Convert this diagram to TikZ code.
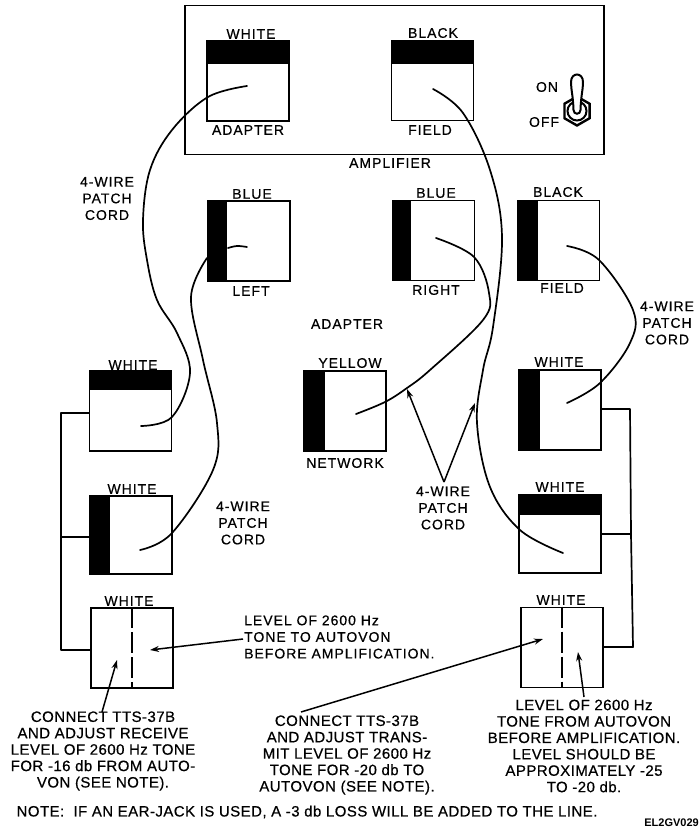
\documentclass[tikz,border=0pt]{standalone}
\usepackage{fontspec}
\setmainfont{Liberation Sans}
\newfontfamily\lblfont[LetterSpace=7,FakeBold=0.5]{Liberation Sans}
\newfontfamily\txtfont[LetterSpace=3,FakeBold=0.5]{Liberation Sans}
\usetikzlibrary{arrows.meta,shapes.geometric}
\tikzset{
  jack/.style={draw=black,fill=white,line width=1.8pt,minimum width=#1pt,minimum height=80pt,inner sep=0pt},
  jack/.default=82,
  lbl/.style={inner sep=0pt,align=center,font=\lblfont\fontsize{14}{16.6}\selectfont},
  txt/.style={inner sep=0pt,align=center,font=\txtfont\fontsize{15}{16.4}\selectfont},
  cord/.style={line width=1.7pt,line cap=round},
  wire/.style={line width=1.7pt,line join=round},
  ptr/.style={line width=1.5pt,-{Stealth[length=9pt,width=6pt]}},
  dash line/.style={line width=1.7pt,dash pattern=on 21pt off 4pt},
}
\begin{document}
\begin{tikzpicture}[x=1pt,y=-1pt]
\useasboundingbox (0,0) rectangle (700,834);
% amplifier panel
\node[draw=black,line width=1.8pt,minimum width=419pt,minimum height=149pt,inner sep=0pt] (amp) at (394.5,80) {};
% jacks
\node[jack] (wa) at (248,81) {};
\node[jack] (bf) at (432.5,80.5) {};
\node[jack] (bl) at (249,241) {};
\node[jack] (br) at (433.5,240.5) {};
\node[jack] (fd) at (558.5,240.5) {};
\node[jack] (ny) at (345,411) {};
\node[jack] (l1) at (130.5,411) {};
\node[jack,minimum height=78pt] (l2) at (131,535) {};
\node[jack] (l3) at (132,648) {};
\node[jack] (r1) at (560,410) {};
\node[jack,minimum height=78pt] (r2) at (560,534) {};
\node[jack] (r3) at (562,647.5) {};
% black bands
\fill (wa.north west) rectangle ([yshift=-24pt]wa.north east);
\fill (bf.north west) rectangle ([yshift=-24pt]bf.north east);
\fill (l1.north west) rectangle ([yshift=-20pt]l1.north east);
\fill (r2.north west) rectangle ([yshift=-21pt]r2.north east);
\fill (bl.north west) rectangle ([xshift=20pt]bl.south west);
\fill (br.north west) rectangle ([xshift=19pt]br.south west);
\fill (fd.north west) rectangle ([xshift=21pt]fd.south west);
\fill (ny.north west) rectangle ([xshift=22pt]ny.south west);
\fill (l2.north west) rectangle ([xshift=21pt]l2.south west);
\fill (r1.north west) rectangle ([xshift=22pt]r1.south west);
% dashed dividers
\draw[dash line] (l3.north) -- (l3.south);
\draw[dash line] (r3.north) -- (r3.south);
% toggle switch
\node[draw=black,line width=2.4pt,regular polygon,regular polygon sides=6,minimum size=29pt,inner sep=0pt,shape border rotate=30] (nut) at (577,111) {};
\draw[line width=2pt] (nut) circle (9.5pt);
\draw[line width=2pt,fill=white] (573.5,110) .. controls (573,95) and (571,90) .. (571,82) .. controls (571,72) and (583,72) .. (583,82) .. controls (583,90) and (581,95) .. (580.5,110) .. controls (580.5,115) and (573.5,115) .. (573.5,110) -- cycle;
% bus wires
\coordinate (bl1) at (61,413);
\coordinate (bl2) at (61,537);
\coordinate (bl3) at (61,650);
\draw[wire] (bl1 -| l1.west) -- (bl1) -- (bl3) -- (bl3 -| l3.west);
\draw[wire] (bl2 -| l2.west) -- (bl2);
\coordinate (br1) at (630,409);
\coordinate (br2) at (631,534);
\coordinate (br3) at (633,647);
\draw[wire] (br1 -| r1.east) -- (br1) -- (br2) -- (br3) -- (br3 -| r3.east);
\draw[wire] (br2 -| r2.east) -- (br2);
% patch cords
\coordinate (c1a) at (247,86);
\coordinate (c1b) at (141,426);
\draw[cord] plot[smooth,tension=.6] coordinates {(c1a) (208,97) (172,130) (150,170) (143,220) (147,260) (157,300) (177,333) (190,373) (172,417) (c1b)};
\coordinate (c2a) at (247,247);
\coordinate (c2b) at (228,248);
\draw[cord] plot[smooth,tension=.6] coordinates {(c2a) (237,246) (c2b)};
\coordinate (c2c) at (207,258);
\coordinate (c2d) at (140,550);
\draw[cord] plot[smooth,tension=.6] coordinates {(c2c) (191,297) (203,360) (217,423) (213,470) (172,533) (c2d)};
\coordinate (c3a) at (436,238);
\coordinate (c3b) at (356,414);
\draw[cord] plot[smooth,tension=.6] coordinates {(c3a) (474,257) (489,293) (483,320) (430,370) (407,388) (385,402) (c3b)};
\coordinate (c4a) at (433,89);
\coordinate (c4b) at (563,553);
\draw[cord] plot[smooth,tension=.6] coordinates {(c4a) (463,113) (490,170) (502,237) (493,327) (483,370) (477,423) (490,487) (520,530) (c4b)};
\coordinate (c5a) at (567,246);
\coordinate (c5b) at (567,403);
\draw[cord] plot[smooth,tension=.6] coordinates {(c5a) (599,260) (633,310) (630,343) (600,383) (c5b)};
% labels
\node[lbl] (t1) at (251,34) {WHITE};
\node[lbl] (t2) at (248,130) {ADAPTER};
\node[lbl] (t3) at (433,33) {BLACK};
\node[lbl] (t4) at (430,130) {FIELD};
\node[lbl] (t5) at (390,163) {AMPLIFIER};
\node[lbl] (t6) at (547,87) {ON};
\node[lbl] (t7) at (544,122) {OFF};
\node[lbl] (t8) at (252,194) {BLUE};
\node[lbl] (t9) at (251,291) {LEFT};
\node[lbl] (t10) at (436,193) {BLUE};
\node[lbl] (t11) at (436,290) {RIGHT};
\node[lbl] (t12) at (558,192) {BLACK};
\node[lbl] (t13) at (562,288) {FIELD};
\node[lbl] (t14) at (347,324) {ADAPTER};
\node[lbl] (t15) at (350,363) {YELLOW};
\node[lbl] (t16) at (345,463) {NETWORK};
\node[lbl] (t17) at (133,365) {WHITE};
\node[lbl] (t18) at (132,489) {WHITE};
\node[lbl] (t19) at (129,601) {WHITE};
\node[lbl] (t20) at (559,362) {WHITE};
\node[lbl] (t21) at (560,487) {WHITE};
\node[lbl] (t22) at (561,600) {WHITE};
\node[lbl] (p1) at (107,198.5) {4-WIRE\\PATCH\\CORD};
\node[lbl] (p2) at (243,523) {4-WIRE\\PATCH\\CORD};
\node[lbl] (p3) at (443,508) {4-WIRE\\PATCH\\CORD};
\node[lbl] (p4) at (667,323) {4-WIRE\\PATCH\\CORD};
\node[lbl,anchor=west,align=left] (lv1) at (244,637) {LEVEL OF 2600 Hz\\TONE TO AUTOVON\\BEFORE AMPLIFICATION.};
\node[txt] (n1) at (103,751) {CONNECT TTS-37B\\AND ADJUST RECEIVE\\LEVEL OF 2600 Hz TONE\\FOR -16 db FROM AUTO-\\VON (SEE NOTE).};
\node[txt] (n2) at (347,755) {CONNECT TTS-37B\\AND ADJUST TRANS-\\MIT LEVEL OF 2600 Hz\\TONE FOR -20 db TO\\AUTOVON (SEE NOTE).};
\node[txt] (n3) at (584,746) {LEVEL OF 2600 Hz\\TONE FROM AUTOVON\\BEFORE AMPLIFICATION.\\LEVEL SHOULD BE\\APPROXIMATELY -25\\TO -20 db.};
\node[txt] (note) at (307,812) {NOTE:\ \ IF AN EAR-JACK IS USED, A -3 db LOSS WILL BE ADDED TO THE LINE.};
\node[inner sep=0pt,font=\bfseries\fontsize{11}{13}\selectfont,anchor=east] (code) at (699,823) {EL2GV029};
% pointers
\coordinate (a0) at (444,482);
\draw[ptr] (a0) -- (407,389);
\draw[ptr] (a0) -- (475,403);
\coordinate (a1) at (243,639);
\draw[ptr] (a1) -- (150,650);
\coordinate (a2) at (102,712);
\draw[ptr] (a2) -- (117,660);
\coordinate (a3) at (301,712);
\draw[ptr] (a3) -- (543,639);
\coordinate (a4) at (584,697);
\draw[ptr] (a4) -- (578,652);
\end{tikzpicture}
\end{document}
